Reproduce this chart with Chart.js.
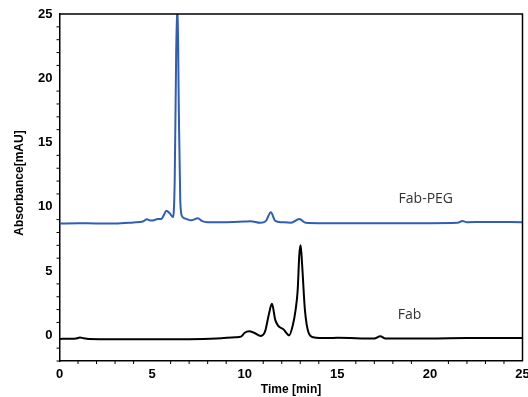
<!DOCTYPE html>
<html>
<head>
<meta charset="utf-8">
<script src="https://cdn.jsdelivr.net/npm/chart.js@4/dist/chart.umd.min.js"></script>
<style>
  html, body { margin: 0; padding: 0; background: #fff; }
  #wrap { width: 528px; height: 397px; position: relative; }
</style>
</head>
<body>
<div id="wrap"><canvas id="chrom"></canvas></div>
<script>
// Fab-PEG trace (blue)
const pegTime = [0, 1, 2, 3, 4, 4.5, 4.72, 4.9, 5.1, 5.3, 5.5, 5.65, 5.77, 5.95, 6.13, 6.22, 6.3, 6.37, 6.44, 6.52, 6.62, 6.8, 7.1, 7.47, 7.7, 8, 9, 10, 10.3, 10.85, 11.15, 11.41, 11.65, 12, 12.5, 12.95, 13.3, 14, 16, 18, 20, 21.5, 21.75, 22, 23, 25];
const pegAbs  = [8.7, 8.72, 8.7, 8.7, 8.78, 8.85, 9.02, 8.93, 8.95, 9.05, 9.05, 9.4, 9.7, 9.5, 9.2, 12, 22, 26, 18, 10.5, 9.25, 9.08, 8.95, 9.1, 8.88, 8.8, 8.8, 8.85, 8.88, 8.75, 8.9, 9.58, 8.9, 8.8, 8.76, 9.05, 8.75, 8.72, 8.72, 8.72, 8.72, 8.75, 8.9, 8.8, 8.82, 8.8];

// Fab trace (black)
const fabTime = [0, 0.9, 1.1, 1.3, 1.6, 3, 5, 7, 8.5, 9.5, 9.8, 10.0, 10.24, 10.5, 10.87, 11.1, 11.3, 11.47, 11.65, 11.8, 12.1, 12.4, 12.6, 12.75, 12.86, 12.95, 13.02, 13.1, 13.25, 13.45, 13.7, 14.5, 15, 17, 17.32, 17.6, 20, 22, 25];
const fabAbs  = [-0.28, -0.25, -0.17, -0.23, -0.28, -0.3, -0.3, -0.3, -0.25, -0.15, -0.1, 0.2, 0.32, 0.2, -0.05, 0.3, 1.6, 2.45, 1.2, 0.75, 0.45, 0.0, 0.8, 2.0, 3.5, 6.3, 7.0, 5.5, 2.0, 0.2, -0.15, -0.22, -0.2, -0.25, -0.07, -0.25, -0.25, -0.22, -0.22];

const xTicks = [0, 5, 10, 15, 20, 25];
const yTicks = [0, 5, 10, 15, 20, 25];

// series labels placed at data coordinates
const seriesLabels = [
  { text: 'Fab-PEG', t: 19.78, v: 10.6 },
  { text: 'Fab', t: 18.9, v: 1.6 }
];

function toPoints(xs, ys) {
  return xs.map((x, i) => ({ x: x, y: ys[i] }));
}

const tickFont = { family: 'Liberation Sans, Arial, sans-serif', size: 13, weight: 'bold' };

// frame, minor ticks, y title and series labels
const decorations = {
  id: 'decorations',
  afterDraw(chart) {
    const ctx = chart.ctx;
    const a = chart.chartArea;
    const xs = chart.scales.x, ys = chart.scales.y;
    ctx.save();
    ctx.strokeStyle = '#000';
    ctx.lineWidth = 1.5;
    ctx.beginPath();
    ctx.moveTo(a.left, a.top);
    ctx.lineTo(a.right, a.top);
    ctx.lineTo(a.right, a.bottom);
    ctx.stroke();

    // minor ticks
    ctx.lineWidth = 1;
    ctx.beginPath();
    for (let t = 0; t <= 25; t++) {
      if (t % 5 === 0) continue;
      const px = xs.getPixelForValue(t);
      ctx.moveTo(px, a.bottom);
      ctx.lineTo(px, a.bottom + 3);
    }
    for (let v = -2; v <= 25; v++) {
      if (v % 5 === 0) continue;
      const py = ys.getPixelForValue(v);
      ctx.moveTo(a.left, py);
      ctx.lineTo(a.left - 3, py);
    }
    ctx.stroke();

    // y axis title
    ctx.fillStyle = '#000';
    ctx.font = 'bold 12px "Liberation Sans", Arial, sans-serif';
    ctx.textAlign = 'center';
    ctx.textBaseline = 'middle';
    ctx.translate(20, 183);
    ctx.rotate(-Math.PI / 2);
    ctx.fillText('Absorbance[mAU]', 0, 0);
    ctx.restore();

    ctx.save();
    ctx.fillStyle = '#333';
    ctx.font = '14px "Open Sans", sans-serif';
    ctx.textAlign = 'center';
    ctx.textBaseline = 'middle';
    seriesLabels.forEach(l => {
      ctx.fillText(l.text, xs.getPixelForValue(l.t), ys.getPixelForValue(l.v));
    });
    ctx.restore();
  }
};

const ctx = document.getElementById('chrom').getContext('2d');
const chart = new Chart(ctx, {
  type: 'line',
  data: {
    datasets: [
      {
        label: 'Fab-PEG',
        data: toPoints(pegTime, pegAbs),
        borderColor: '#2f5eb4',
        borderWidth: 2,
        pointRadius: 0,
        cubicInterpolationMode: 'monotone'
      },
      {
        label: 'Fab',
        data: toPoints(fabTime, fabAbs),
        borderColor: '#000',
        borderWidth: 2,
        pointRadius: 0,
        cubicInterpolationMode: 'monotone'
      }
    ]
  },
  options: {
    responsive: true,
    maintainAspectRatio: false,
    animation: false,
    layout: { padding: { top: 14, right: 5.5, left: 0, bottom: 0 } },
    plugins: { legend: { display: false }, tooltip: { enabled: false } },
    scales: {
      x: {
        type: 'linear',
        min: 0,
        max: 25,
        afterBuildTicks: s => { s.ticks = xTicks.map(v => ({ value: v })); },
        afterFit: s => { s.height = 36; s.paddingRight = 0; s.paddingLeft = 0; },
        grid: { display: false, drawTicks: true, tickLength: 5, tickColor: '#000' },
        border: { display: true, color: '#000', width: 1.5 },
        ticks: { color: '#000', font: tickFont, padding: 1, maxRotation: 0 },
        title: {
          display: true,
          text: 'Time [min]',
          color: '#000',
          font: { family: 'Liberation Sans, Arial, sans-serif', size: 12, weight: 'bold' },
          padding: { top: 0, bottom: 0 }
        }
      },
      y: {
        min: -2,
        max: 25,
        afterBuildTicks: s => { s.ticks = yTicks.map(v => ({ value: v })); },
        afterFit: s => { s.width = 59.5; },
        grid: { display: false, drawTicks: true, tickLength: 5, tickColor: '#000' },
        border: { display: true, color: '#000', width: 1.5 },
        ticks: { color: '#000', font: tickFont, padding: 2 }
      }
    }
  },
  plugins: [decorations]
});
</script>
</body>
</html>
